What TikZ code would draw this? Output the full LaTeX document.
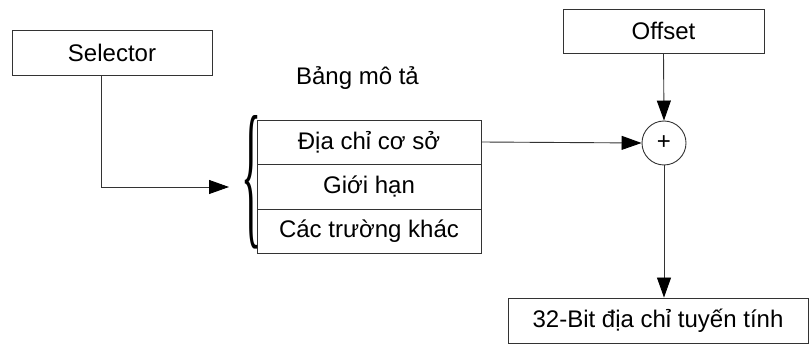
\documentclass[tikz,border=0pt]{standalone}
\usepackage{fontspec}
\usepackage{graphicx}
\setmainfont{Liberation Sans}
\newfontfamily\braceserif{Liberation Serif}
\usetikzlibrary{arrows.meta}
\tikzset{
  ln/.style={draw=black!80, line width=0.9pt},
  box/.style={ln, rectangle, inner sep=0pt, font=\fontsize{24}{28}\selectfont},
  lbl/.style={inner sep=0pt, font=\fontsize{24}{28}\selectfont},
  arr/.style={ln, -{Triangle[length=20pt,width=14pt,fill=black,color=black]}},
}
\begin{document}
\begin{tikzpicture}[x=1pt,y=-1pt]
\useasboundingbox[fill=white] (0,0) rectangle (809,347);
\node[box, minimum width=200pt, minimum height=45pt] (sel) at (112,52.5) {Selector};
\node[box, minimum width=201pt, minimum height=44pt] (off) at (663.5,31) {Offset};
\node[box, minimum width=300pt, minimum height=45pt] (out) at (658,320.5) {32-Bit địa chỉ tuyến tính};
\node[lbl] (title) at (357.5,78) {Bảng mô tả};
\node[box, minimum width=224pt, minimum height=44pt] (r1) at (369,142) {Địa chỉ cơ sở};
\node[box, minimum width=224pt, minimum height=45pt] (r2) at (369,186.5) {Giới hạn};
\node[box, minimum width=224pt, minimum height=44pt] (r3) at (369,231) {Các trường khác};
\node[inner sep=0pt] (br) at (251,182) {\resizebox{20pt}{112pt}{\braceserif\{}};
\coordinate (brtip) at (229,187);
\node[ln, circle, minimum size=44pt, inner sep=0pt, font=\fontsize{24}{28}\selectfont] (sum) at (664,143) {+};
\draw[arr] ([xshift=-11pt]sel.south) |- (brtip);
\draw[arr] (r1.east) -- (sum.west);
\draw[arr] (off.south) -- (sum.north);
\draw[arr] (sum.south) -- (sum.south |- out.north);
\end{tikzpicture}
\end{document}
